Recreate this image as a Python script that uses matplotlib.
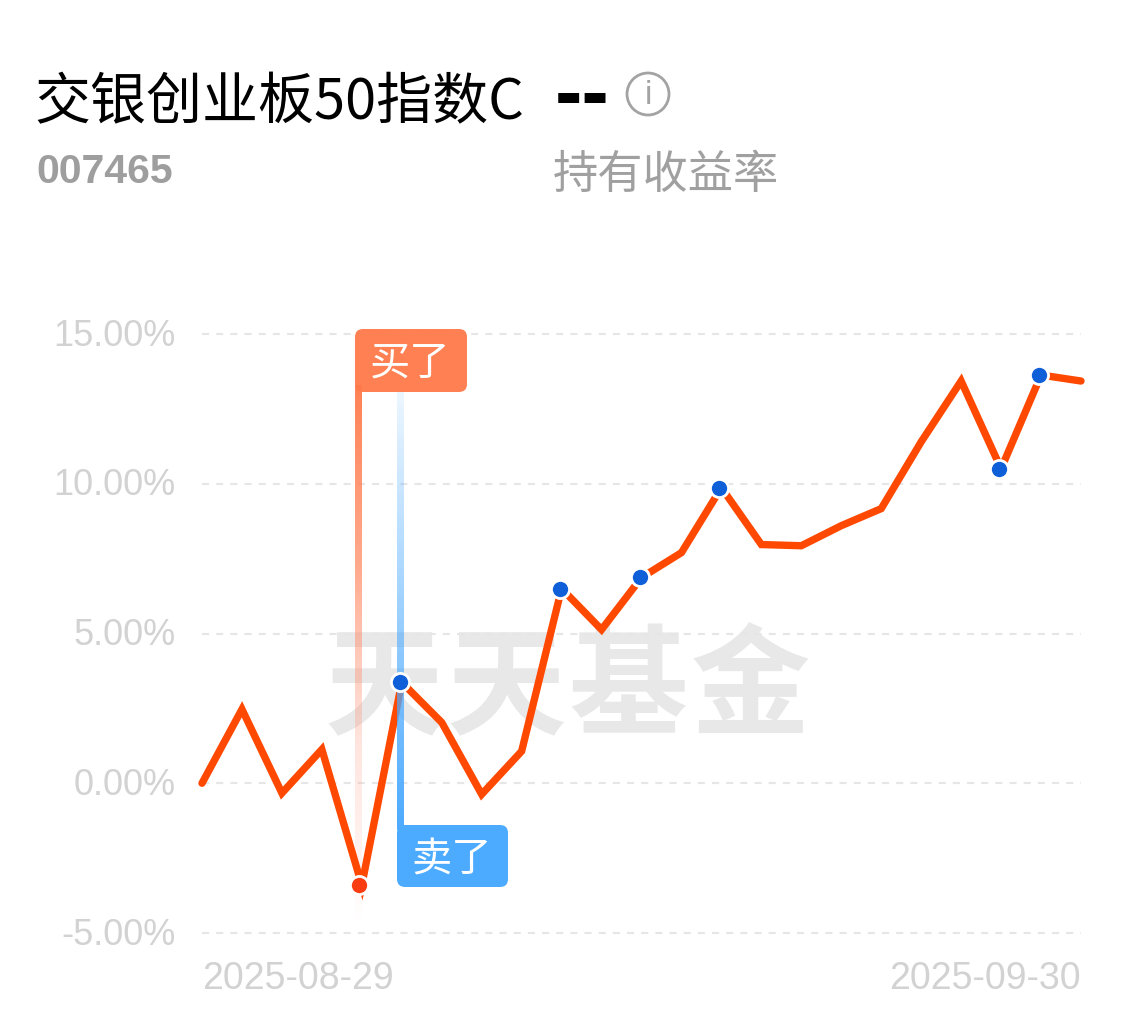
import numpy as np
import matplotlib
matplotlib.use('Agg')
import matplotlib.pyplot as plt
from matplotlib.colors import LinearSegmentedColormap
from matplotlib.patches import FancyBboxPatch, Circle
from matplotlib.transforms import Affine2D, ScaledTranslation

W, H = 1135, 1022
CJK = ['Noto Sans CJK SC', 'DejaVu Sans']
plt.rcParams['font.family'] = CJK

# holding return, %, one value per trading day
returns = [0.0, 2.47, -0.33, 1.13, -3.40, 3.37, 2.03, -0.37, 1.07, 6.50, 5.13, 6.87,
           7.70, 9.87, 7.97, 7.93, 8.60, 9.17, 11.40, 13.43, 10.50, 13.63, 13.43]
y_ticks = [-5, 0, 5, 10, 15]
y_labels = ['-5.00%', '0.00%', '5.00%', '10.00%', '15.00%']
x_ticks = [0, 22]
x_labels = ['2025-08-29', '2025-09-30']
buy_idx = 4
sell_idx = 5
dot_idx = [5, 9, 11, 13, 20, 21]

fig = plt.figure(figsize=(W / 100, H / 100), dpi=100, facecolor='white')
ax = fig.add_axes([202 / W, 1 - 933 / H, (1081 - 202) / W, (933 - 334) / H])
ax.set_xlim(0, 22)
ax.set_ylim(-5, 15)
ax.set_facecolor('none')
ax.set_zorder(2)
for s in ax.spines.values():
    s.set_visible(False)

# pixel coords of the screenshot, origin top left
px = Affine2D().scale(1, -1).translate(0, H)
x_unit = (1081 - 202) / 22  # pixels per day

def y_from_px(p):
    return -5 + (933 - p) / (933 - 334) * 20

# grid
for v in y_ticks:
    ax.plot([0, 22], [v, v], color='#e6e6e6', lw=1.5, dashes=(3.4, 3.4), zorder=1, clip_on=False)

ax.set_yticks(y_ticks, y_labels, fontsize=26, color='#d2d2d2', family=['Liberation Sans'])
ax.set_xticks(x_ticks, x_labels, fontsize=27, color='#d2d2d2', family=['Liberation Sans'])
ax.get_xticklabels()[0].set_ha('left')
ax.get_xticklabels()[1].set_ha('right')
ax.tick_params(length=0)
ax.tick_params(axis='y', pad=19)
ax.tick_params(axis='x', pad=20)
# y labels sit slightly above their grid lines
nudge = ScaledTranslation(0, 2 / 100, fig.dpi_scale_trans)
for lab in ax.get_yticklabels():
    lab.set_transform(lab.get_transform() + nudge)

# watermark
for ch, x0 in zip('天天基金', [384, 506, 628, 750]):
    fig.text(x0 / W, 1 - 691 / H, ch, ha='center', va='center', fontsize=86, fontweight='bold',
             color='#e8e8e8', family=['Noto Sans CJK SC'], zorder=0)

ax.plot(range(len(returns)), returns, color='#ff4800', lw=5.3, solid_joinstyle='miter',
        solid_capstyle='round', zorder=3, clip_on=False)

# gradient stems for buy and sell markers
half = 3.5 / x_unit
buy_x = buy_idx - 3.2 / x_unit
sell_x = sell_idx - 1.2 / x_unit
buy_cmap = LinearSegmentedColormap.from_list('buy', [(1, 0.478, 0.29, 0.95), (1, 0.55, 0.4, 0.75),
                                                     (1, 0.6, 0.5, 0.25), (1, 0.5, 0.4, 0.0)])
sell_cmap = LinearSegmentedColormap.from_list('sell', [(0.3, 0.67, 1, 0.1), (0.3, 0.67, 1, 1.0)])
grad = np.linspace(0, 1, 256).reshape(-1, 1)
ax.imshow(grad, cmap=buy_cmap, aspect='auto', zorder=2, interpolation='bilinear',
          extent=[buy_x - half, buy_x + half, y_from_px(925), y_from_px(385)])
ax.imshow(grad, cmap=sell_cmap, aspect='auto', zorder=4, interpolation='bilinear',
          extent=[sell_x - half, sell_x + half, y_from_px(830), y_from_px(390)])
ax.set_xlim(0, 22)
ax.set_ylim(-5, 15)

# points sit about 2px left of the line's vertices
shift = 2 / x_unit
ax.scatter([i - shift for i in dot_idx], [returns[i] for i in dot_idx], s=170, color='#0f5fd9',
           edgecolor='white', linewidth=2, zorder=5, clip_on=False)
ax.scatter([buy_idx - 3 / x_unit], [returns[buy_idx]], s=170, color='#fa3c12', edgecolor='white',
           linewidth=2, zorder=5)

# buy and sell tags
fig.add_artist(FancyBboxPatch((358, 332), 106, 57, boxstyle='round,pad=3,rounding_size=8', transform=px,
                              fc='#ff7a4a', ec='none', alpha=0.95, zorder=6))
fig.text(410 / W, 1 - 363 / H, '买了', ha='center', va='center', fontsize=29, color='white', zorder=7)
fig.add_artist(FancyBboxPatch((400, 828), 105, 56, boxstyle='round,pad=3,rounding_size=8', transform=px,
                              fc='#4dabff', ec='none', zorder=6))
fig.text(452 / W, 1 - 860 / H, '卖了', ha='center', va='center', fontsize=29, color='white', zorder=7)

# header
fig.text(34.5 / W, 1 - 119 / H, '交银创业板50指数C', ha='left', va='baseline', fontsize=40.3, color='black')
fig.text(555 / W, 1 - 119 / H, '--', ha='left', va='baseline', fontsize=59, fontweight='bold',
         color='black', family=['Liberation Sans'])
fig.text(36 / W, 1 - 183 / H, '007465', ha='left', va='baseline', fontsize=29.5, fontweight='bold',
         color='#9e9e9e', family=['Liberation Sans'])
fig.text(553 / W, 1 - 188 / H, '持有收益率', ha='left', va='baseline', fontsize=32.6, color='#a0a0a0')
fig.add_artist(Circle((648, 94), 21, transform=px, fc='none', ec='#a3a3a3', lw=2))
fig.text(648 / W, 1 - 95 / H, 'i', ha='center', va='center', fontsize=24, color='#a3a3a3',
         family=['Liberation Sans'])

fig.savefig('out.png', dpi=100)
